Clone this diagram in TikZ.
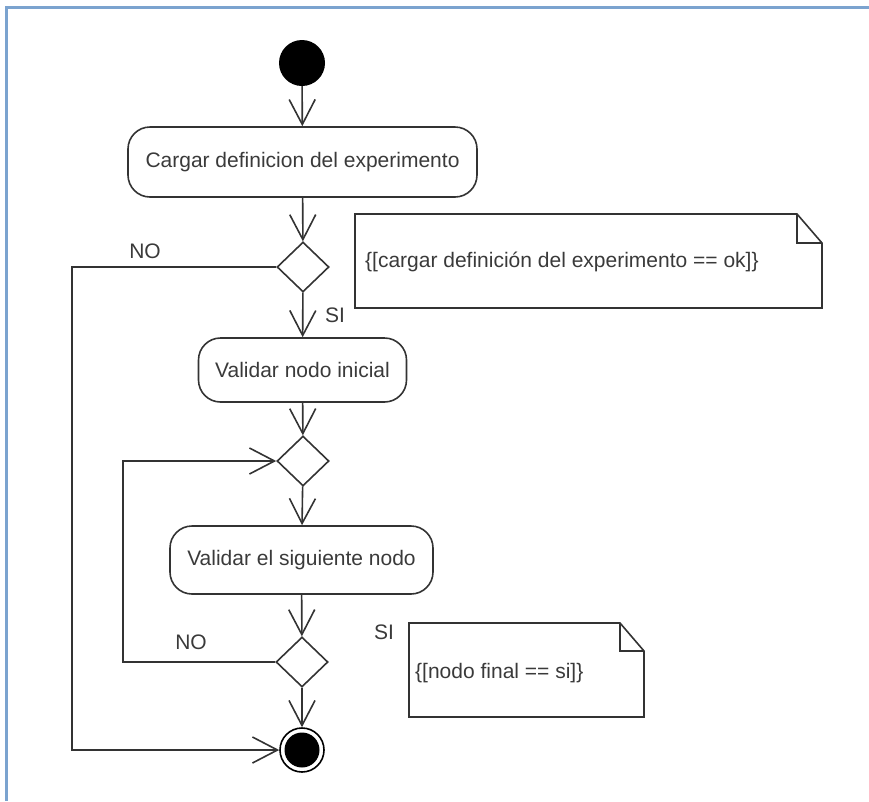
\documentclass[tikz,border=0pt]{standalone}
\usepackage{fontspec}
\setmainfont{Liberation Sans}
\usetikzlibrary{arrows.meta,shapes.geometric,calc}
\definecolor{ink}{HTML}{333333}
\definecolor{txt}{HTML}{3A3A3A}
\definecolor{frame}{HTML}{7BA3CF}
\tikzset{
  base/.style={line width=1.6pt, draw=ink},
  action/.style={base, rectangle, rounded corners=22pt, inner sep=0pt,
    font=\fontsize{21}{25}\selectfont, text=txt},
  choice/.style={base, diamond, inner sep=0pt, minimum width=52pt, minimum height=50pt},
  startnode/.style={circle, fill=black, inner sep=0pt, minimum size=46pt},
  endnode/.style={circle, draw=black, line width=1.6pt, inner sep=0pt, minimum size=44pt},
  flow/.style={base, -{Straight Barb[length=25pt,width=26pt]}},
  lbl/.style={font=\fontsize{21}{25}\selectfont, text=txt, inner sep=0pt},
  notetext/.style={font=\fontsize{21}{25}\selectfont, text=txt, inner sep=10pt, anchor=west},
  notebody/.style={line width=1.6pt, draw=ink, line join=miter}
}
\begin{document}
\begin{tikzpicture}[x=1pt,y=-1pt]
  \useasboundingbox (0,0) rectangle (869,801);
  % page frame (top and left edges)
  \draw[frame, line width=3pt] (869,7) -- (6,7) -- (6,801);

  % nodes
  \node[startnode] (start) at (302,63) {};
  \node[action, minimum width=349pt, minimum height=70pt] (load) at (302.5,162) {Cargar definicion del experimento};
  \node[choice] (d1) at (303,267) {};
  \node[action, minimum width=208pt, minimum height=64pt] (first) at (302.5,370) {Validar nodo inicial};
  \node[choice] (d2) at (303,461) {};
  \node[action, minimum width=263pt, minimum height=68pt] (next) at (301.5,560) {Validar el siguiente nodo};
  \node[choice] (d3) at (302,662) {};
  \node[endnode] (stop) at (302,750) {};
  \fill[black] (stop.center) circle (17.5pt);

  % routing guides for the side branches
  \coordinate (outer) at (72,0);
  \coordinate (inner) at (123,0);

  % connectors
  \draw[flow] (start) -- (load);
  \draw[flow] (load) -- (d1);
  \draw[flow] (d1) -- (first);
  \draw[flow] (d1.west) -- (d1.west -| outer) |- (stop.west);
  \draw[flow] (first) -- (d2);
  \draw[flow] (d2) -- (next);
  \draw[flow] (next) -- (d3);
  \draw[flow] (d3) -- (stop);
  \draw[flow] (d3.west) -- (d3.west -| inner) |- (d2.west);

  % branch labels
  \node[lbl] (no1) at (145,251) {NO};
  \node[lbl] (si1) at (335,315) {SI};
  \node[lbl] (no2) at (191,642) {NO};
  \node[lbl] (si2) at (384,632) {SI};

  % guard notes
  \coordinate (n1nw) at (355,214);
  \coordinate (n1se) at (822,308);
  \draw[notebody] (n1nw) -- ($(n1nw -| n1se)+(-25,0)$) -- ($(n1nw -| n1se)+(0,29)$) -- (n1se) -- (n1se -| n1nw) -- cycle;
  \draw[notebody] ($(n1nw -| n1se)+(-25,0)$) -- ($(n1nw -| n1se)+(-25,29)$) -- ($(n1nw -| n1se)+(0,29)$);
  \node[notetext] (g1) at (355,262) {\{[cargar definición del experimento == ok]\}};

  \coordinate (n2nw) at (409,623);
  \coordinate (n2se) at (644,717);
  \draw[notebody] (n2nw) -- ($(n2nw -| n2se)+(-24,0)$) -- ($(n2nw -| n2se)+(0,28)$) -- (n2se) -- (n2se -| n2nw) -- cycle;
  \draw[notebody] ($(n2nw -| n2se)+(-24,0)$) -- ($(n2nw -| n2se)+(-24,28)$) -- ($(n2nw -| n2se)+(0,28)$);
  \node[notetext, inner sep=6pt] (g2) at (409,673) {\{[nodo final == si]\}};
\end{tikzpicture}
\end{document}
